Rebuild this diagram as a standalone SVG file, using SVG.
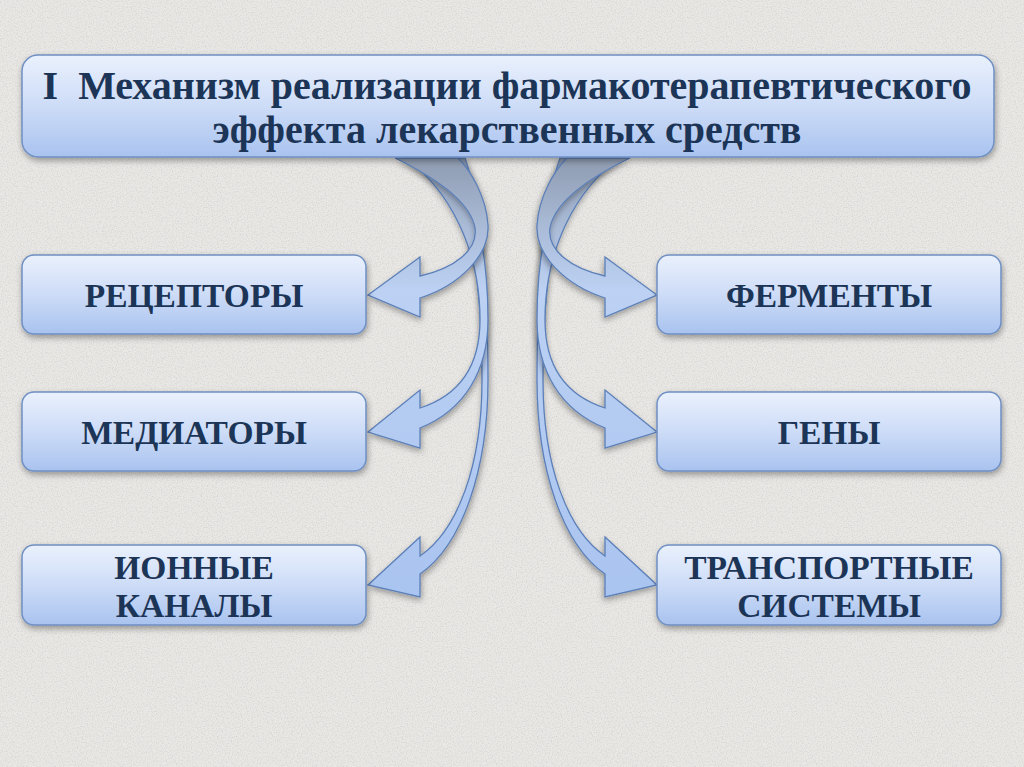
<svg xmlns="http://www.w3.org/2000/svg" width="1024" height="767" viewBox="0 0 1024 767">
<defs>
<linearGradient id="boxg" x1="0" y1="0" x2="0" y2="1">
<stop offset="0" stop-color="#eaf1fd"/>
<stop offset="0.5" stop-color="#cddcf7"/>
<stop offset="1" stop-color="#a9c3ef"/>
</linearGradient>
<linearGradient id="arrg" x1="0" y1="158" x2="0" y2="600" gradientUnits="userSpaceOnUse">
<stop offset="0" stop-color="#8e9bb0"/>
<stop offset="0.15" stop-color="#a9bad6"/>
<stop offset="0.3" stop-color="#bcd1f3"/>
<stop offset="1" stop-color="#a9c4f0"/>
</linearGradient>
<filter id="sh" x="-10%" y="-10%" width="130%" height="140%">
<feDropShadow dx="1" dy="3" stdDeviation="3" flood-color="#000" flood-opacity="0.35"/>
</filter>
<filter id="noise" x="0" y="0" width="100%" height="100%">
<feTurbulence type="fractalNoise" baseFrequency="0.8" numOctaves="2" seed="3" result="t"/>
<feColorMatrix type="matrix" values="0 0 0 0 0.6  0 0 0 0 0.6  0 0 0 0 0.6  0 0 0 2.2 -0.95"/>
</filter>
</defs>
<style>
.box{fill:url(#boxg);stroke:#6f8fc2;stroke-width:1.5;filter:url(#sh)}
.arr{fill:url(#arrg);stroke:#5b7fb8;stroke-width:1.3;filter:url(#sh)}
.t{font-family:"Liberation Serif","Times New Roman",serif;font-weight:bold;fill:#1c3557;text-anchor:middle}
.tt{font-size:40px}
.bt{font-size:33.5px}
</style>
<rect width="1024" height="767" fill="#e9e8e5"/>
<rect width="1024" height="767" filter="url(#noise)" opacity="0.7"/>

<g id="connectors">
<g id="left-arrows">
<path class="arr" d="M420 556 L420 537 L368 585 L420 597 L420 574 C462 545 488 470 488 380 C488 270 480 200 465 158 L440 158 C470 200 482 280 482 380 C482 465 458 530 420 556 Z"/>
<path class="arr" d="M420 408 L420 390 L368 432 L420 448 L420 428 C465 410 488 370 488 320 C488 250 475 190 445 158 L405 158 C450 190 480 250 480 320 C480 365 460 395 420 408 Z"/>
<path class="arr" d="M420 276 L420 257 L368 295 L420 317 L420 298 C460 285 490 255 488 225 C486 195 470 170 458 158 L395 158 C430 175 470 200 475 228 C478 250 455 268 420 276 Z"/>
</g>
<g id="right-arrows" transform="translate(1025 0) scale(-1 1)">
<path class="arr" d="M420 556 L420 537 L368 585 L420 597 L420 574 C462 545 488 470 488 380 C488 270 480 200 465 158 L440 158 C470 200 482 280 482 380 C482 465 458 530 420 556 Z"/>
<path class="arr" d="M420 408 L420 390 L368 432 L420 448 L420 428 C465 410 488 370 488 320 C488 250 475 190 445 158 L405 158 C450 190 480 250 480 320 C480 365 460 395 420 408 Z"/>
<path class="arr" d="M420 276 L420 257 L368 295 L420 317 L420 298 C460 285 490 255 488 225 C486 195 470 170 458 158 L395 158 C430 175 470 200 475 228 C478 250 455 268 420 276 Z"/>
</g>
</g>

<g id="title">
<rect class="box" x="22" y="55" width="972" height="102" rx="16"/>
<text class="t tt" x="507" y="99" xml:space="preserve">I  Механизм реализации фармакотерапевтического</text>
<text class="t tt" x="507" y="143">эффекта лекарственных средств</text>
</g>
<g id="receptors">
<rect class="box" x="22" y="255" width="344" height="79" rx="12"/>
<text class="t bt" x="194" y="307">РЕЦЕПТОРЫ</text>
</g>
<g id="mediators">
<rect class="box" x="22" y="392" width="344" height="79" rx="12"/>
<text class="t bt" x="194" y="444">МЕДИАТОРЫ</text>
</g>
<g id="ion-channels">
<rect class="box" x="22" y="545" width="344" height="80" rx="12"/>
<text class="t bt" x="194" y="579">ИОННЫЕ</text>
<text class="t bt" x="194" y="617">КАНАЛЫ</text>
</g>
<g id="enzymes">
<rect class="box" x="657" y="255" width="344" height="79" rx="12"/>
<text class="t bt" x="829" y="307">ФЕРМЕНТЫ</text>
</g>
<g id="genes">
<rect class="box" x="657" y="392" width="344" height="79" rx="12"/>
<text class="t bt" x="829" y="444">ГЕНЫ</text>
</g>
<g id="transport">
<rect class="box" x="657" y="545" width="344" height="80" rx="12"/>
<text class="t bt" x="829" y="579">ТРАНСПОРТНЫЕ</text>
<text class="t bt" x="829" y="617">СИСТЕМЫ</text>
</g>
</svg>
